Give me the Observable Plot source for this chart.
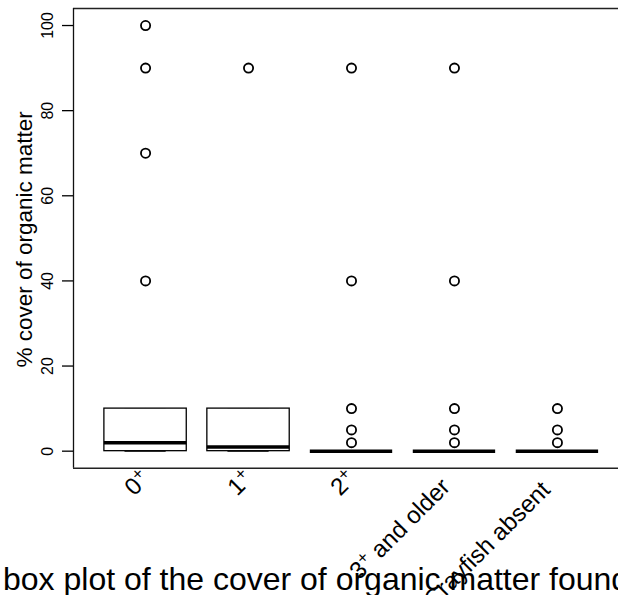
<!DOCTYPE html>
<html><head><meta charset="utf-8">
<script src="https://cdn.jsdelivr.net/npm/d3@7"></script>
<script src="https://cdn.jsdelivr.net/npm/@observablehq/plot@0.6"></script>
<style>
html,body{margin:0;padding:0;background:#fff;overflow:hidden;width:618px;height:595px;}
#wrap{position:relative;width:618px;height:595px;overflow:hidden;}
#chart svg{max-width:none !important;width:640px !important;height:595px !important;display:block;}
#caption{position:absolute;left:3px;top:563px;font-family:"Liberation Sans",Arial,sans-serif;font-size:32px;line-height:32px;white-space:nowrap;color:#000;}
</style></head><body>
<div id="wrap"><div id="chart"></div><div id="caption"></div></div>
<script>
const categories = ["0⁺", "1⁺", "2⁺", "3⁺ and older", "Crayfish absent"];
const q1 = [0, 0, 0, 0, 0];
const medians = [2, 1, 0, 0, 0];
const q3 = [10, 10, 0, 0, 0];
const whiskerLow = [0, 0, 0, 0, 0];
const whiskerHigh = [10, 10, 0, 0, 0];
const outliers = [[100, 90, 70, 40], [90], [90, 40, 10, 5, 2], [90, 40, 10, 5, 2], [10, 5, 2]];
const yTicks = [0, 20, 40, 60, 80, 100];
const yLabel = "% cover of organic matter";
const captionText = "box plot of the cover of organic matter found";

const boxes = categories.map((c, i) => ({
  cat: c, pos: i + 1, q1: q1[i], med: medians[i], q3: q3[i], wlo: whiskerLow[i], whi: whiskerHigh[i]
}));
const points = categories.flatMap((c, i) => outliers[i].map(v => ({cat: c, pos: i + 1, value: v})));

const ink = "#000";
const labelSize = 24;
const chart = Plot.plot({
  width: 640, height: 595,
  marginLeft: 73, marginRight: 11, marginTop: 8, marginBottom: 127.3,
  x: {type: "linear", domain: [0.3, 5.7], axis: null},
  y: {domain: [-4, 104], axis: null},
  style: {fontFamily: "'Liberation Sans', Arial, sans-serif", background: "#fff", color: ink, overflow: "visible"},
  marks: [
    Plot.ruleY([104], {stroke: "#222", strokeWidth: 1.4}),
    Plot.ruleY([-4], {stroke: "#222", strokeWidth: 1.4}),
    Plot.ruleX([0.3], {stroke: "#111", strokeWidth: 1.3}),
    Plot.axisY(yTicks, {anchor: "left", tickSize: 11, tickFormat: () => "", label: null, stroke: ink, strokeWidth: 1.3}),
    Plot.text(yTicks, {y: d => d, frameAnchor: "left", text: d => String(d), rotate: -90, textAnchor: "middle", lineAnchor: "bottom", dx: -21, fontSize: 16, fill: ink}),
    Plot.ruleX(boxes, {x: "pos", y1: "wlo", y2: "q1", stroke: ink, strokeDasharray: "4,3"}),
    Plot.ruleX(boxes, {x: "pos", y1: "q3", y2: "whi", stroke: ink, strokeDasharray: "4,3"}),
    Plot.ruleY(boxes, {y: "wlo", x1: d => d.pos - 0.2, x2: d => d.pos + 0.2, stroke: ink, strokeWidth: 1.3}),
    Plot.ruleY(boxes, {y: "whi", x1: d => d.pos - 0.2, x2: d => d.pos + 0.2, stroke: ink, strokeWidth: 1.3}),
    Plot.rect(boxes, {x1: d => d.pos - 0.4, x2: d => d.pos + 0.4, y1: "q1", y2: "q3", fill: "white", stroke: ink, strokeWidth: 1.3}),
    Plot.ruleY(boxes, {y: "med", x1: d => d.pos - 0.4, x2: d => d.pos + 0.4, stroke: ink, strokeWidth: 3.5}),
    Plot.dot(points, {x: "pos", y: "value", r: 4.6, stroke: ink, strokeWidth: 1.8, fill: "none"}),
    Plot.text(boxes, {x: "pos", frameAnchor: "bottom", text: "cat", rotate: -45, textAnchor: "end", lineAnchor: "top", fontSize: labelSize, dx: -5, dy: -2, fill: ink}),
    Plot.text([yLabel], {frameAnchor: "left", text: d => d, rotate: -90, textAnchor: "middle", lineAnchor: "bottom", dx: -42, dy: 1, fontSize: 22.5, fill: ink})
  ]
});
document.getElementById("chart").appendChild(chart);
document.getElementById("caption").textContent = captionText;

// Draw "⁺" as a raised, smaller "+" (like R plotmath superscripts) and
// mimic R's right-adjust offset for the rotated category labels.
const NS = "http://www.w3.org/2000/svg";
Array.from(chart.querySelectorAll("text")).forEach(t => {
  const tr = t.getAttribute("transform") || "";
  if (!/rotate\(-45\)/.test(tr)) return;
  const s = t.textContent;
  if (s.includes("⁺")) {
    const [a, b] = s.split("⁺");
    while (t.firstChild) t.removeChild(t.firstChild);
    t.appendChild(document.createTextNode(a));
    const sup = document.createElementNS(NS, "tspan");
    sup.setAttribute("font-size", (labelSize * 0.72) + "px");
    sup.setAttribute("dy", "-8");
    sup.textContent = "+";
    t.appendChild(sup);
    if (b) {
      const rest = document.createElementNS(NS, "tspan");
      rest.setAttribute("font-size", labelSize + "px");
      rest.setAttribute("dy", "8");
      rest.textContent = b;
      t.appendChild(rest);
    }
  }
  let len = 0;
  try { len = t.getComputedTextLength(); } catch (e) { len = 0; }
  t.setAttribute("transform", tr + ` translate(${-0.11 * len},0)`);
});
</script>
</body></html>
